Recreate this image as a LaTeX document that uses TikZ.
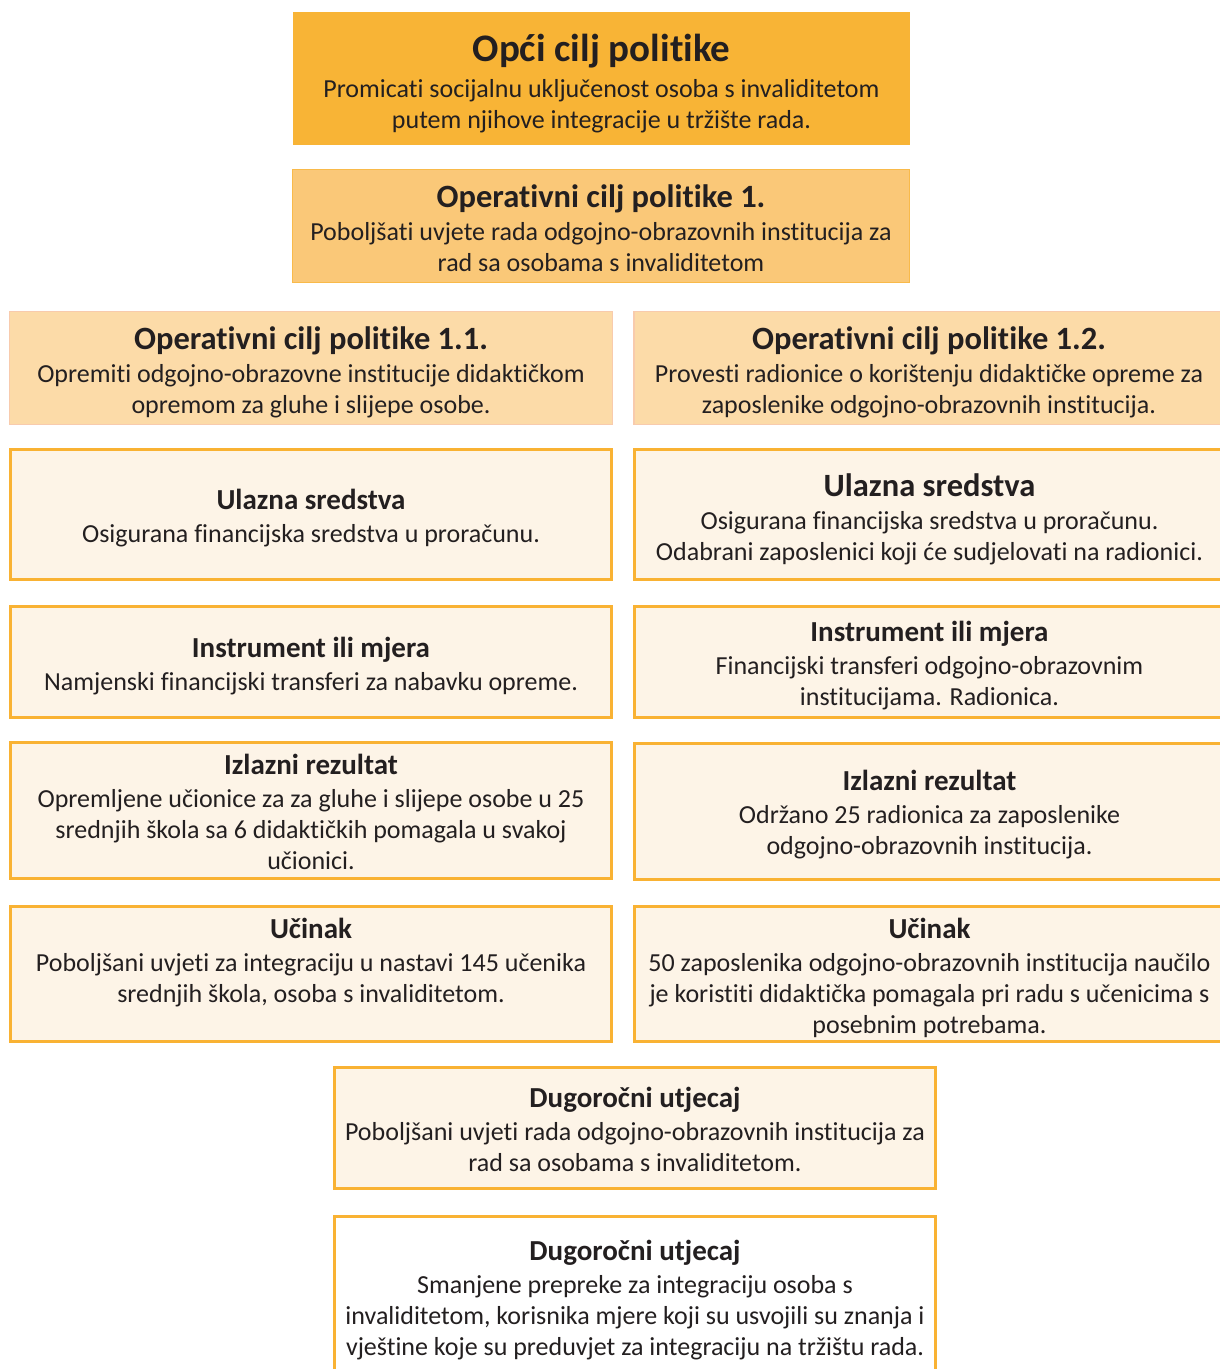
\documentclass[tikz,border=0pt]{standalone}
\usepackage{fontspec}
\setmainfont{Carlito}[Ligatures=NoCommon]
\usepackage{xcolor}
\definecolor{goalfill}{RGB}{248,180,54}
\definecolor{opfill}{RGB}{250,200,120}
\definecolor{opline}{RGB}{249,186,74}
\definecolor{subfill}{RGB}{252,219,168}
\definecolor{subline}{RGB}{248,203,173}
\definecolor{cream}{RGB}{253,244,231}
\definecolor{frame}{RGB}{249,178,51}
\definecolor{ink}{RGB}{35,31,32}
\usetikzlibrary{positioning}
\tikzstyle{Box} = [
rectangle,
inner sep=0pt,
align=center,
text=ink,
font=\fontsize{26}{31}\selectfont]
\tikzstyle{Goal} = [Box, fill=goalfill]
\tikzstyle{OpGoal} = [Box, fill=opfill, draw=opline, line width=1.5pt]
\tikzstyle{SubGoal} = [Box, fill=subfill, draw=subline, line width=1.2pt]
\tikzstyle{Stage} = [Box, fill=cream, draw=frame, line width=3pt]
\tikzstyle{Last} = [Box, fill=white, draw=frame, line width=3pt]
\newcommand{\Head}[2][28pt]{{\bfseries\fontsize{29}{31}\selectfont\rule{0pt}{#1}#2}}
\newcommand{\BigHead}[2][32pt]{{\bfseries\fontsize{32.5}{33}\selectfont\rule{0pt}{#1}#2}}

\begin{document}
\begin{tikzpicture}[x=1pt, y=-1pt]
    \useasboundingbox (0,0) rectangle (1220,1369);

    \node [Goal, minimum width=617pt, minimum height=133pt] (1) at (601.5,78.5)
        {{\bfseries\fontsize{39}{40}\selectfont\rule{0pt}{38pt}Opći cilj politike}\\[5pt]
         Promicati socijalnu uključenost osoba s invaliditetom\\
         putem njihove integracije u tržište rada.};
    \node [OpGoal, minimum width=617pt, minimum height=113pt] (2) at (601,226)
        {\BigHead[27pt]{Operativni cilj politike 1.}\\[2pt]
         Poboljšati uvjete rada odgojno-obrazovnih institucija za\\
         rad sa osobama s invaliditetom};
    \node [SubGoal, minimum width=603pt, minimum height=113pt] (3) at (311,368)
        {\BigHead{Operativni cilj politike 1.1.}\\[2pt]
         Opremiti odgojno-obrazovne institucije didaktičkom\\
         opremom za gluhe i slijepe osobe.};
    \node [SubGoal, minimum width=590pt, minimum height=113pt] (4) at (929,368)
        {\BigHead{Operativni cilj politike 1.2.}\\[2pt]
         Provesti radionice o korištenju didaktičke opreme za\\
         zaposlenike odgojno-obrazovnih institucija.};

    % left column
    \node [Stage, minimum width=601pt, minimum height=130pt] (5) at (311,514.5)
        {\Head{Ulazna sredstva}\\[2pt]
         Osigurana financijska sredstva u proračunu.};
    \node [Stage, minimum width=601pt, minimum height=111pt] (6) at (311,662)
        {\Head{Instrument ili mjera}\\[2pt]
         Namjenski financijski transferi za nabavku opreme.};
    \node [Stage, minimum width=601pt, minimum height=136pt] (7) at (311,810.5)
        {\Head[23pt]{Izlazni rezultat}\\[2pt]
         Opremljene učionice za za gluhe i slijepe osobe u 25\\
         srednjih škola sa 6 didaktičkih pomagala u svakoj\\
         učionici.};
    \node [Stage, minimum width=601pt, minimum height=135pt] (8) at (311,974)
        {\Head[24pt]{Učinak}\\[2pt]
         Poboljšani uvjeti za integraciju u nastavi 145 učenika\\
         srednjih škola, osoba s invaliditetom.\\
         ~};

    % right column
    \node [Stage, minimum width=590pt, minimum height=130pt] (9) at (929.5,514.5)
        {\BigHead{Ulazna sredstva}\\[2pt]
         Osigurana financijska sredstva u proračunu.\\
         Odabrani zaposlenici koji će sudjelovati na radionici.};
    \node [Stage, minimum width=590pt, minimum height=111pt] (10) at (929.5,662)
        {\Head{Instrument ili mjera}\\[2pt]
         Financijski transferi odgojno-obrazovnim\\
         institucijama. Radionica.};
    \node [Stage, minimum width=590pt, minimum height=136pt] (11) at (929.5,811)
        {\Head{Izlazni rezultat}\\[2pt]
         Održano 25 radionica za zaposlenike\\
         odgojno-obrazovnih institucija.};
    \node [Stage, minimum width=590pt, minimum height=135pt] (12) at (929.5,974)
        {\Head{Učinak}\\[2pt]
         50 zaposlenika odgojno-obrazovnih institucija naučilo\\
         je koristiti didaktička pomagala pri radu s učenicima s\\
         posebnim potrebama.};

    % bottom
    \node [Stage, minimum width=601pt, minimum height=121pt] (13) at (635,1128)
        {\Head[24pt]{Dugoročni utjecaj}\\[2pt]
         Poboljšani uvjeti rada odgojno-obrazovnih institucija za\\
         rad sa osobama s invaliditetom.};
    \node [Last, minimum width=601pt, minimum height=168pt] (14) at (635,1300.5)
        {\Head[0pt]{Dugoročni utjecaj}\\[2pt]
         Smanjene prepreke za integraciju osoba s\\
         invaliditetom, korisnika mjere koji su usvojili su znanja i\\
         vještine koje su preduvjet za integraciju na tržištu rada.};
\end{tikzpicture}
\end{document}
